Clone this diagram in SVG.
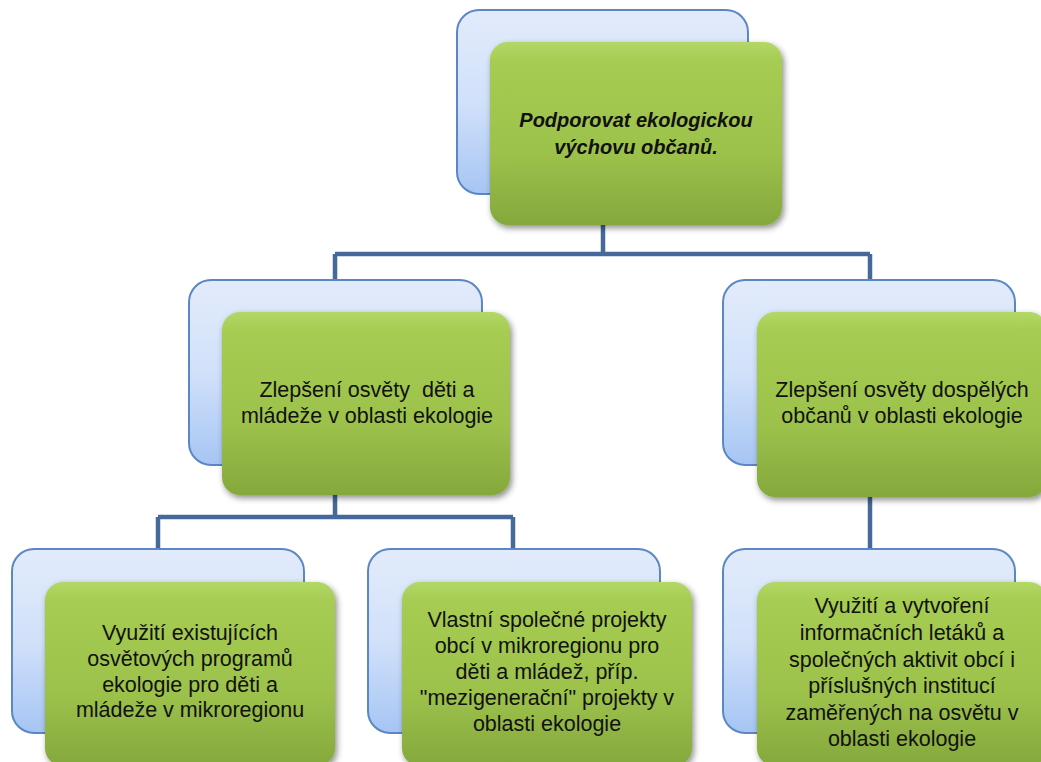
<svg xmlns="http://www.w3.org/2000/svg" width="1041" height="762" viewBox="0 0 1041 762">
<style>
.back{fill:url(#gBlue);stroke:#5b88c4;stroke-width:2}
.front{fill:url(#gGreen);filter:url(#sh)}
.conn{fill:none;stroke:#44699a;stroke-width:4.5}
text{font-family:"Liberation Sans",Arial,sans-serif;font-size:21.5px;fill:#111;text-anchor:middle}
.title{font-weight:bold;font-style:italic;font-size:20px}
</style>
<defs>
<linearGradient id="gBlue" x1="0" y1="0" x2="0" y2="1">
<stop offset="0" stop-color="#e2ebfb"/>
<stop offset="0.5" stop-color="#d1e1fa"/>
<stop offset="1" stop-color="#a6c5f4"/>
</linearGradient>
<linearGradient id="gGreen" x1="0" y1="0" x2="0" y2="1">
<stop offset="0" stop-color="#b3d867"/>
<stop offset="0.1" stop-color="#a6cc52"/>
<stop offset="0.6" stop-color="#9dc24c"/>
<stop offset="1" stop-color="#85a83c"/>
</linearGradient>
<filter id="sh" x="-10%" y="-10%" width="125%" height="130%">
<feDropShadow dx="2" dy="3" stdDeviation="3" flood-color="#000" flood-opacity="0.45"/>
</filter>
</defs>
<g id="connectors">
<path class="conn" d="M603 225 V254 M335 254 H870 M335 254 V290 M870 254 V290"/>
<path class="conn" d="M335 495 V517 M158 517 H513 M158 517 V552 M513 517 V552"/>
<path class="conn" d="M870 497 V552"/>
</g>
<g id="n-top">
<rect class="back" x="457" y="10" width="291" height="184" rx="22"/>
<rect class="front" x="490" y="42" width="292" height="183" rx="18"/>
<text class="title" x="636" y="127">Podporovat ekologickou</text>
<text class="title" x="636" y="154">výchovu občanů.</text>
</g>
<g id="n-mid-left">
<rect class="back" x="189" y="280" width="293" height="185" rx="22"/>
<rect class="front" x="222" y="312" width="288" height="183" rx="18"/>
<text x="367" y="397" style="white-space:pre">Zlepšení osvěty  děti a</text>
<text x="367" y="423">mládeže v oblasti ekologie</text>
</g>
<g id="n-mid-right">
<rect class="back" x="723" y="280" width="292" height="185" rx="22"/>
<rect class="front" x="757" y="312" width="290" height="185" rx="18"/>
<text x="902" y="397">Zlepšení osvěty dospělých</text>
<text x="902" y="423">občanů v oblasti ekologie</text>
</g>
<g id="n-bot-left">
<rect class="back" x="12" y="549" width="292" height="184" rx="22"/>
<rect class="front" x="45" y="582" width="290" height="184" rx="18"/>
<text x="190" y="640">Využití existujících</text>
<text x="190" y="666">osvětových programů</text>
<text x="190" y="692">ekologie pro děti a</text>
<text x="190" y="717">mládeže v mikroregionu</text>
</g>
<g id="n-bot-mid">
<rect class="back" x="368" y="549" width="292" height="184" rx="22"/>
<rect class="front" x="402" y="582" width="290" height="184" rx="18"/>
<text x="547" y="627">Vlastní společné projekty</text>
<text x="547" y="653">obcí v mikroregionu pro</text>
<text x="547" y="679">děti a mládež, příp.</text>
<text x="547" y="705">"mezigenerační" projekty v</text>
<text x="547" y="731">oblasti ekologie</text>
</g>
<g id="n-bot-right">
<rect class="back" x="723" y="549" width="292" height="184" rx="22"/>
<rect class="front" x="757" y="582" width="290" height="184" rx="18"/>
<text x="902" y="613">Využití a vytvoření</text>
<text x="902" y="640">informačních letáků a</text>
<text x="902" y="667">společných aktivit obcí i</text>
<text x="902" y="693">příslušných institucí</text>
<text x="902" y="720">zaměřených na osvětu v</text>
<text x="902" y="746">oblasti ekologie</text>
</g>
</svg>
